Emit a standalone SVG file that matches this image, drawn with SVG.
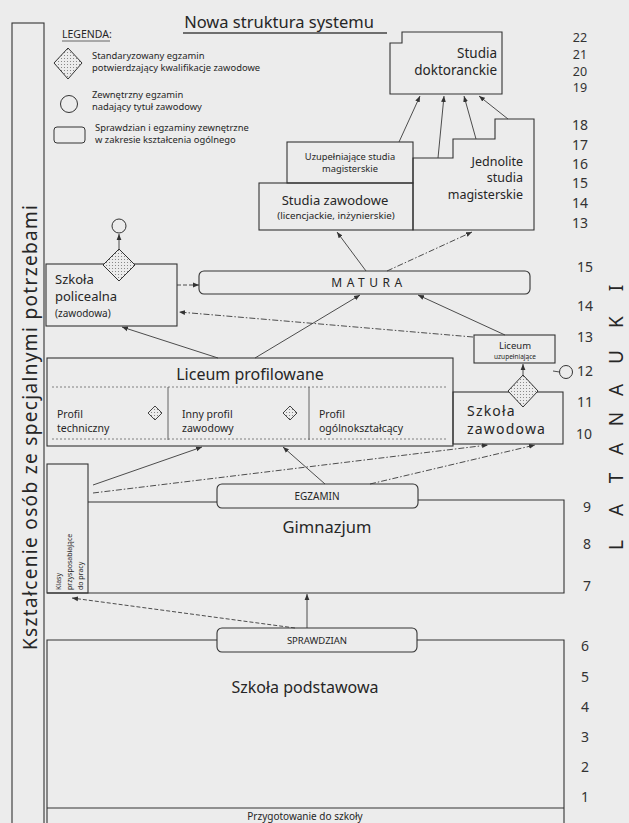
<svg xmlns="http://www.w3.org/2000/svg" width="629" height="823" viewBox="0 0 629 823">
<defs>
<style>
text{font-family:"Noto Sans","Open Sans","Liberation Sans",sans-serif;fill:#262626}
.box{fill:none;stroke:#333;stroke-width:1.1}
.c{fill:none;stroke:#3a3a3a;stroke-width:0.9}
.dd{stroke-dasharray:6 2 1.5 2}
.dash{stroke-dasharray:4 2}
.dot{fill:none;stroke:#666;stroke-width:0.8;stroke-dasharray:2 2}
.yr{font-size:14px;text-anchor:middle;fill:#333}
.yt{font-size:12.5px;text-anchor:middle;fill:#333}
.mid{text-anchor:middle}
</style>
<pattern id="dots" width="3" height="3" patternUnits="userSpaceOnUse">
<rect width="3" height="3" fill="#ececec"/>
<circle cx="1.5" cy="1.5" r="0.55" fill="#777"/>
</pattern>
<marker id="ah" viewBox="0 0 6 6" refX="6" refY="3" markerWidth="6" markerHeight="6" markerUnits="userSpaceOnUse" orient="auto">
<path d="M0,0.6 L6,3 L0,5.4 z" fill="#333"/>
</marker>
</defs>
<rect width="629" height="823" fill="#ececec"/>

<g id="title">
<text x="279" y="28" class="mid" font-size="16.5">Nowa struktura systemu</text>
<line x1="183" y1="33" x2="387" y2="33" stroke="#444" stroke-width="1.6"/>
</g>

<g id="legend">
<text x="62" y="38" font-size="10.5">LEGENDA:</text>
<line x1="62" y1="41" x2="110" y2="41" stroke="#444" stroke-width="0.8"/>
<path d="M68,48 L82,63 L68,79 L54,63 Z" fill="url(#dots)" stroke="#333" stroke-width="1"/>
<text x="92" y="59" font-size="9.4">Standaryzowany egzamin</text>
<text x="92" y="71" font-size="9.4">potwierdzający kwalifikacje zawodowe</text>
<circle cx="69" cy="104" r="8.5" fill="none" stroke="#333" stroke-width="1"/>
<text x="92" y="98" font-size="9.4">Zewnętrzny egzamin</text>
<text x="92" y="110" font-size="9.4">nadający tytuł zawodowy</text>
<rect x="54" y="127" width="31" height="16" rx="3" fill="none" stroke="#333" stroke-width="1"/>
<text x="95" y="131" font-size="9.4">Sprawdzian i egzaminy zewnętrzne</text>
<text x="95" y="143" font-size="9.4">w zakresie kształcenia ogólnego</text>
</g>

<g id="special-needs">
<rect x="12" y="23" width="32" height="810" class="box"/>
<text transform="translate(37,650) rotate(-90)" font-size="19" textLength="445" lengthAdjust="spacing">Kształcenie osób ze specjalnymi potrzebami</text>
</g>

<g id="years">
<text class="yt" x="580" y="42">22</text>
<text class="yt" x="580" y="59">21</text>
<text class="yt" x="580" y="76">20</text>
<text class="yt" x="580" y="92">19</text>
<text class="yr" x="580" y="130">18</text>
<text class="yr" x="580" y="150">17</text>
<text class="yr" x="580" y="169">16</text>
<text class="yr" x="580" y="188">15</text>
<text class="yr" x="580" y="208">14</text>
<text class="yr" x="580" y="228">13</text>
<text class="yr" x="585" y="272">15</text>
<text class="yr" x="585" y="311">14</text>
<text class="yr" x="585" y="342">13</text>
<text class="yr" x="585" y="376">12</text>
<text class="yr" x="585" y="407">11</text>
<text class="yr" x="584" y="439">10</text>
<text class="yr" x="587" y="512">9</text>
<text class="yr" x="587" y="549">8</text>
<text class="yr" x="587" y="591">7</text>
<text class="yr" x="585" y="651">6</text>
<text class="yr" x="585" y="682">5</text>
<text class="yr" x="585" y="712">4</text>
<text class="yr" x="585" y="742">3</text>
<text class="yr" x="585" y="772">2</text>
<text class="yr" x="585" y="802">1</text>
</g>

<g id="lata-nauki">
<text transform="translate(623,553) rotate(-90)" font-size="19" fill="#333" text-anchor="middle" x="8 43 75 104 134 163 196 231 265">LATANAUKI</text>
</g>

<g id="studia-doktoranckie">
<path d="M390,43 L402,43 L402,32 L502,32 L502,94 L390,94 Z" class="box"/>
<text x="497" y="58" font-size="13.5" text-anchor="end">Studia</text>
<text x="497" y="75" font-size="13.5" text-anchor="end">doktoranckie</text>
</g>

<g id="uzupelniajace-studia">
<rect x="287" y="142" width="126" height="41" class="box"/>
<text x="350" y="160" class="mid" font-size="9.3">Uzupełniające studia</text>
<text x="350" y="172" class="mid" font-size="9.3">magisterskie</text>
</g>

<g id="studia-zawodowe">
<rect x="259" y="183" width="154" height="47" class="box"/>
<text x="335" y="205" class="mid" font-size="13">Studia zawodowe</text>
<text x="336" y="219" class="mid" font-size="9.8">(licencjackie, inżynierskie)</text>
</g>

<g id="jednolite-studia">
<path d="M413,158 H453 V139 H495 V119 H534 V230 H413 Z" class="box"/>
<text x="523" y="166" font-size="12.5" text-anchor="end">Jednolite</text>
<text x="523" y="182" font-size="12.5" text-anchor="end">studia</text>
<text x="523" y="199" font-size="12.5" text-anchor="end">magisterskie</text>
</g>

<g id="matura">
<rect x="199" y="271" width="331" height="23" rx="5" class="box"/>
<text x="369" y="287" class="mid" font-size="12" letter-spacing="4.5">MATURA</text>
</g>

<g id="szkola-policealna">
<rect x="46" y="264" width="131" height="62" class="box"/>
<text x="55" y="284" font-size="13">Szkoła</text>
<text x="55" y="300.5" font-size="13">policealna</text>
<text x="55" y="316.5" font-size="10">(zawodowa)</text>
<path d="M119,249 L135,265 L119,281 L103,265 Z" fill="url(#dots)" stroke="#333" stroke-width="1"/>
<circle cx="119" cy="226" r="7" fill="none" stroke="#333" stroke-width="1"/>
</g>

<g id="liceum-uzupelniajace">
<rect x="474" y="335" width="81" height="28" class="box"/>
<text x="515" y="349" class="mid" font-size="9.5">Liceum</text>
<text x="515" y="359" class="mid" font-size="6.5">uzupełniające</text>
</g>

<g id="szkola-zawodowa">
<rect x="453" y="392" width="110" height="52" class="box"/>
<path d="M523,375 L538,391 L523,407 L508,391 Z" fill="url(#dots)" stroke="#333" stroke-width="1"/>
<circle cx="566" cy="372" r="6.5" fill="none" stroke="#333" stroke-width="1"/>
<text x="467" y="416" font-size="14" letter-spacing="1.2">Szkoła</text>
<text x="467" y="434" font-size="14" letter-spacing="1.2">zawodowa</text>
</g>

<g id="liceum-profilowane">
<rect x="47" y="358" width="406" height="88" class="box"/>
<text x="250" y="380" class="mid" font-size="16">Liceum profilowane</text>
<line x1="52" y1="387" x2="448" y2="387" class="dot"/>
<line x1="168" y1="387" x2="168" y2="440" stroke="#555" stroke-width="0.9"/>
<line x1="309" y1="387" x2="309" y2="440" stroke="#555" stroke-width="0.9"/>
<line x1="52" y1="439" x2="448" y2="439" class="dot"/>
<text x="57" y="418" font-size="10.5">Profil</text>
<text x="57" y="432" font-size="10.5">techniczny</text>
<path d="M155,406 L162,413 L155,420 L148,413 Z" fill="url(#dots)" stroke="#333" stroke-width="0.9"/>
<text x="182" y="418" font-size="10.5">Inny profil</text>
<text x="182" y="432" font-size="10.5">zawodowy</text>
<path d="M290,406 L297,413 L290,420 L283,413 Z" fill="url(#dots)" stroke="#333" stroke-width="0.9"/>
<text x="319" y="418" font-size="10.5">Profil</text>
<text x="319" y="432" font-size="10.5">ogólnokształcący</text>
</g>

<g id="klasy-przysposabiajace">
<rect x="47" y="464" width="41" height="129" class="box"/>
<text transform="translate(61,590) rotate(-90)" font-size="7">Klasy</text>
<text transform="translate(72,590) rotate(-90)" font-size="7">przysposabiające</text>
<text transform="translate(83,590) rotate(-90)" font-size="7">do pracy</text>
</g>

<g id="gimnazjum">
<path d="M88,502 H217 M418,500 H564 V593 H47" class="box"/>
<rect x="217" y="484" width="201" height="24" rx="5" class="box"/>
<text x="317" y="500" class="mid" font-size="10">EGZAMIN</text>
<text x="327" y="533" class="mid" font-size="16.5">Gimnazjum</text>
</g>

<g id="szkola-podstawowa">
<path d="M217,640 H47 V823 M417,640 H564 V823 M47,808 H564" class="box"/>
<rect x="217" y="628" width="200" height="24" rx="5" class="box"/>
<text x="317" y="644" class="mid" font-size="9.5">SPRAWDZIAN</text>
<text x="305" y="693" class="mid" font-size="16">Szkoła podstawowa</text>
<text x="305" y="820" class="mid" font-size="10">Przygotowanie do szkoły</text>
</g>

<g id="connectors">
<line x1="399" y1="142" x2="420" y2="96" class="c" marker-end="url(#ah)"/>
<line x1="438" y1="158" x2="444" y2="96" class="c" marker-end="url(#ah)"/>
<line x1="476" y1="139" x2="464" y2="96" class="c" marker-end="url(#ah)"/>
<line x1="508" y1="119" x2="479" y2="96" class="c" marker-end="url(#ah)"/>
<line x1="366" y1="271" x2="337" y2="232" class="c" marker-end="url(#ah)"/>
<line x1="387" y1="271" x2="472" y2="232" class="c dd" marker-end="url(#ah)"/>
<line x1="177" y1="285" x2="199" y2="285" class="c dash" marker-end="url(#ah)"/>
<line x1="255" y1="358" x2="360" y2="295" class="c" marker-end="url(#ah)"/>
<line x1="218" y1="358" x2="122" y2="327" class="c" marker-end="url(#ah)"/>
<line x1="473" y1="337" x2="179" y2="312" class="c dd" marker-end="url(#ah)"/>
<line x1="505" y1="335" x2="418" y2="295" class="c" marker-end="url(#ah)"/>
<line x1="119" y1="249" x2="119" y2="234" class="c" marker-end="url(#ah)"/>
<line x1="523" y1="375" x2="523" y2="364" class="c" marker-end="url(#ah)"/>
<line x1="553" y1="371" x2="559.5" y2="372" class="c"/>
<line x1="93" y1="485" x2="202" y2="447" class="c" marker-end="url(#ah)"/>
<line x1="93" y1="493" x2="488" y2="445" class="c dd" marker-end="url(#ah)"/>
<line x1="325" y1="484" x2="283" y2="447" class="c" marker-end="url(#ah)"/>
<line x1="370" y1="484" x2="535" y2="445" class="c dd" marker-end="url(#ah)"/>
<line x1="307" y1="628" x2="307" y2="594" class="c" marker-end="url(#ah)"/>
<line x1="295" y1="628" x2="72" y2="598" class="c dash" marker-end="url(#ah)"/>
</g>
</svg>
